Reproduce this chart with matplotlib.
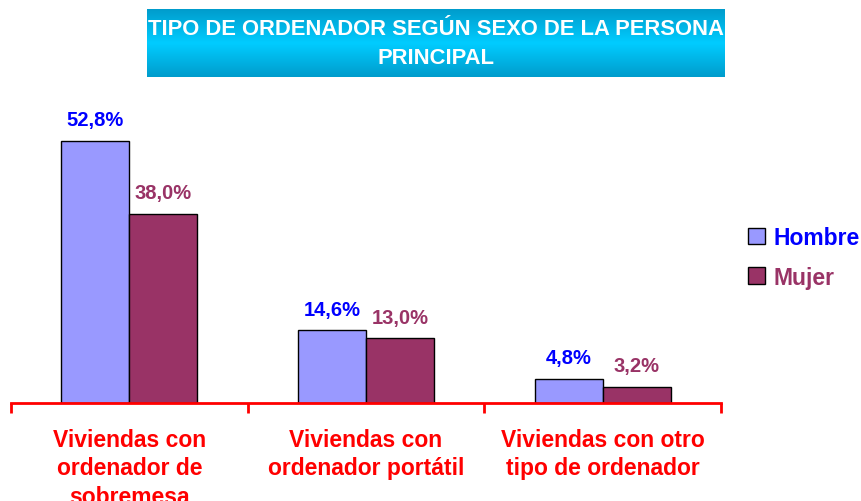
import matplotlib.pyplot as plt
import numpy as np
from matplotlib.colors import LinearSegmentedColormap

categorias = ['Viviendas con\nordenador de\nsobremesa',
              'Viviendas con\nordenador portátil',
              'Viviendas con otro\ntipo de ordenador']
hombre = [52.8, 14.6, 4.8]
mujer = [38.0, 13.0, 3.2]
series = ['Hombre', 'Mujer']

col_h = '#9999FF'
col_m = '#993366'
rojo = '#FF0000'

plt.rcParams['font.family'] = ['Liberation Sans', 'DejaVu Sans']

fig = plt.figure(figsize=(8.62, 5.02), dpi=100)
ax = fig.add_axes([11/862, 1 - 404/502, 710/862, 303/502])

x = np.arange(len(categorias))
w = 0.287
b1 = ax.bar(x - w/2, hombre, w, color=col_h, edgecolor='black', linewidth=1, label=series[0])
b2 = ax.bar(x + w/2, mujer, w, color=col_m, edgecolor='black', linewidth=1, label=series[1])

# etiquetas de valor
for barras, vals, c in [(b1, hombre, '#0000FF'), (b2, mujer, col_m)]:
    for rect, v in zip(barras, vals):
        ax.annotate(f'{v:.1f}%'.replace('.', ','), (rect.get_x() + rect.get_width()/2, v),
                    xytext=(0, 8.5), textcoords='offset points', ha='center', va='bottom',
                    color=c, fontweight='bold', fontsize=14.5)

ax.set_xlim(-0.5, 2.5)
ax.set_ylim(0, 61)
for s in ['top', 'right', 'left']:
    ax.spines[s].set_visible(False)
ax.spines['bottom'].set_color(rojo)
ax.spines['bottom'].set_linewidth(2)
ax.set_yticks([])
ax.set_xticks(x)
ax.set_xticklabels(categorias, color=rojo, fontweight='bold', fontsize=16.5, linespacing=1.3)
ax.tick_params(axis='x', which='major', length=0, pad=18)
ax.set_xticks([-0.5, 0.5, 1.5, 2.5], minor=True)
ax.tick_params(axis='x', which='minor', length=7, width=2, color=rojo, direction='out')

# titulo con degradado
tax = fig.add_axes([147/862, 1 - 78/502, 578/862, 68/502])
grad = np.concatenate([np.linspace(0, 1, 50), np.linspace(1, 0, 50)])[:, None]
cm = LinearSegmentedColormap.from_list('t', ['#009CCC', '#00CCFF'])
tax.imshow(grad, aspect='auto', cmap=cm, extent=[0, 1, 0, 1])
tax.set_axis_off()
tax.text(0.5, 0.5, 'TIPO DE ORDENADOR SEGÚN SEXO DE LA PERSONA\nPRINCIPAL',
         ha='center', va='center', color='white', fontweight='bold', fontsize=15.8,
         linespacing=1.55, transform=tax.transAxes, clip_on=True)

leg = fig.legend(handles=[b1, b2], loc='upper left', bbox_to_anchor=(737/862, 1 - 216/502),
                 frameon=False, fontsize=16.5, handlelength=0.7, handleheight=0.7,
                 handletextpad=0.4, labelspacing=0.7, borderpad=0)
for t, c in zip(leg.get_texts(), ['#0000FF', col_m]):
    t.set_color(c)
    t.set_fontweight('bold')

fig.savefig('out.png', dpi=100)
